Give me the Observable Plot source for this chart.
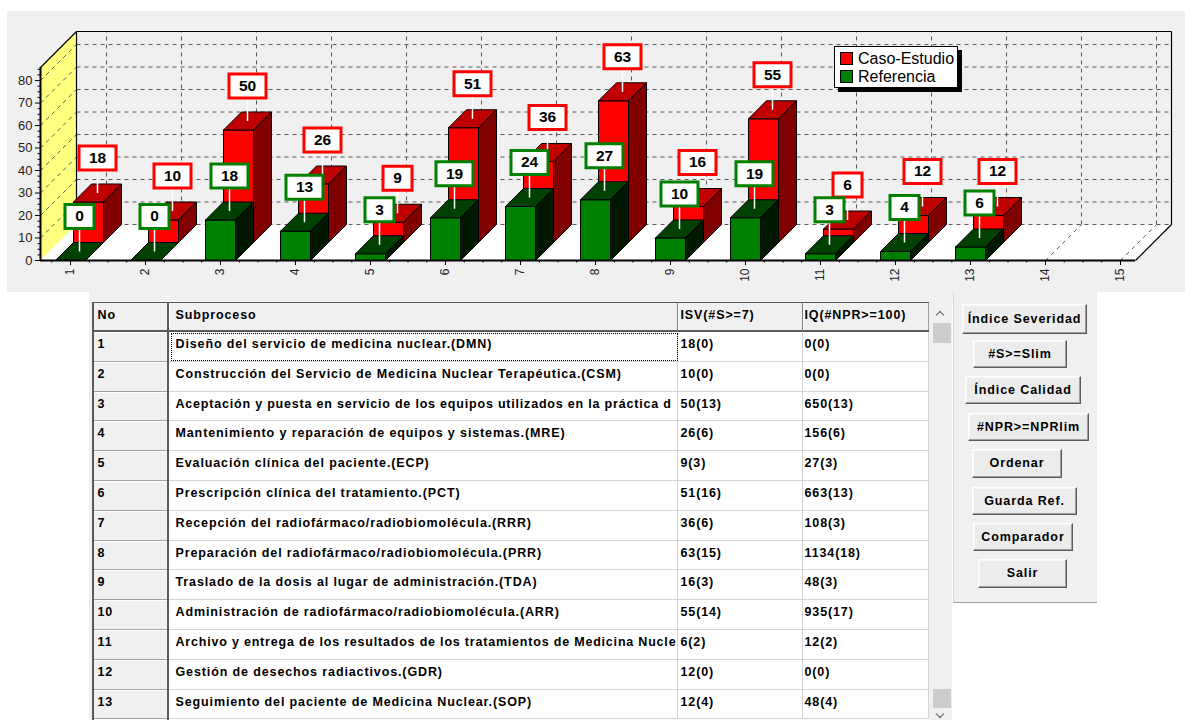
<!DOCTYPE html>
<html>
<head>
<meta charset="utf-8">
<script src="https://cdn.jsdelivr.net/npm/d3@7"></script>
<script src="https://cdn.jsdelivr.net/npm/@observablehq/plot@0.6"></script>
<style>
  html, body { margin: 0; padding: 0; background: #fff; }
  body { width: 1185px; height: 720px; overflow: hidden; position: relative; font-family: "Liberation Sans", Arial, sans-serif; }
  .abs { position: absolute; box-sizing: border-box; }
  #panel { left: 7px; top: 11px; width: 1178px; height: 281px; background: #f0f0f0; }
  #chart { left: 0; top: 0; }
  #legend { left: 834px; top: 46px; width: 124px; height: 42px; background: #fff; border: 1px solid #000; box-shadow: 4px 4px 0 #000; }
  .sw { position: absolute; left: 5px; width: 13px; height: 13px; border: 1px solid #000; box-sizing: border-box; }
  .lt { position: absolute; left: 23px; font-size: 16px; line-height: 18px; color: #000; white-space: nowrap; }
  .cell { position: absolute; box-sizing: border-box; overflow: hidden; white-space: nowrap; font-size: 12.5px; letter-spacing: 0.88px; font-weight: bold; line-height: 14px; color: #000; }
  .tight { letter-spacing: 0.8px; }
  .fixed { background: #f0f0f0; border-right: 1px solid #a0a0a0; border-bottom: 1px solid #a0a0a0; box-shadow: inset 1px 1px 0 #fff; }
  .data { background: #fff; border-right: 1px solid #d4d4d4; border-bottom: 1px solid #d4d4d4; }
  .btn { position: absolute; box-sizing: border-box; background: #ececec; border: 1px solid; border-color: #fff #5a5a5a #5a5a5a #fff; box-shadow: inset -1px -1px 0 #a0a0a0, inset 1px 1px 0 #f8f8f8; font-size: 12.5px; letter-spacing: 0.9px; font-weight: bold; text-align: center; color: #000; white-space: nowrap; }
</style>
</head>
<body>
<div id="panel" class="abs"></div>
<div id="chart" class="abs"></div>
<div id="legend" class="abs">
  <div class="sw" style="top:5px;background:#ff0000"></div><div class="lt" style="top:3px">Caso-Estudio</div>
  <div class="sw" style="top:23px;background:#008000"></div><div class="lt" style="top:21px">Referencia</div>
</div>
<div id="table"></div>
<script>
// ---------------- data ----------------
const categories = [1, 2, 3, 4, 5, 6, 7, 8, 9, 10, 11, 12, 13, 14, 15];
const casoEstudio = [18, 10, 50, 26, 9, 51, 36, 63, 16, 55, 6, 12, 12];
const referencia = [0, 0, 18, 13, 3, 19, 24, 27, 10, 19, 3, 4, 6];
const yTicks = [0, 10, 20, 30, 40, 50, 60, 70, 80];
const seriesNames = ["Referencia", "Caso-Estudio"];

const tableHeader = ["No", "Subproceso", "ISV(#S>=7)", "IQ(#NPR>=100)"];
const tableNo = ["1", "2", "3", "4", "5", "6", "7", "8", "9", "10", "11", "12", "13"];
const subprocesos = [
  "Diseño del servicio de medicina nuclear.(DMN)",
  "Construcción del Servicio de Medicina Nuclear Terapéutica.(CSM)",
  "Aceptación y puesta en servicio de los equipos utilizados en la práctica d",
  "Mantenimiento y reparación de equipos y sistemas.(MRE)",
  "Evaluación clínica del paciente.(ECP)",
  "Prescripción clínica del tratamiento.(PCT)",
  "Recepción del radiofármaco/radiobiomolécula.(RRR)",
  "Preparación del radiofármaco/radiobiomolécula.(PRR)",
  "Traslado de la dosis al lugar de administración.(TDA)",
  "Administración de radiofármaco/radiobiomolécula.(ARR)",
  "Archivo y entrega de los resultados de los tratamientos de Medicina Nucle",
  "Gestión de desechos radiactivos.(GDR)",
  "Seguimiento del paciente de Medicina Nuclear.(SOP)"
];
const isv = ["18(0)", "10(0)", "50(13)", "26(6)", "9(3)", "51(16)", "36(6)", "63(15)", "16(3)", "55(14)", "6(2)", "12(0)", "12(4)"];
const iq = ["0(0)", "0(0)", "650(13)", "156(6)", "27(3)", "663(13)", "108(3)", "1134(18)", "48(3)", "935(17)", "12(2)", "0(0)", "48(4)"];
const buttons = ["Índice Severidad", "#S>=Slim", "Índice Calidad", "#NPR>=NPRlim", "Ordenar", "Guarda Ref.", "Comparador", "Salir"];

// ---------------- geometry / style ----------------
const W = 1185, H = 292, mL = 40, mR = 50, mT = 67, mB = 32;
const xDomain = [0.6, 15.2], yDomain = [0, 85.8];
const xPerPx = (xDomain[1] - xDomain[0]) / (W - mL - mR);
const yPerPx = (yDomain[1] - yDomain[0]) / (H - mT - mB);
const DEPTH = 18, HALF = 15;
const DX = DEPTH * xPerPx, DY = DEPTH * yPerPx, HW = HALF * xPerPx;
const x0 = xDomain[0], x1 = xDomain[1], yMax = yDomain[1];
const colors = [
  {front: "#008000", top: "#004000", side: "#001800", label: "#008000"},
  {front: "#ff0000", top: "#c00000", side: "#800000", label: "#ff0000"}
];
const font = '"Liberation Sans", Arial, sans-serif';

function poly(id, pts) { return pts.concat([pts[0]]).map(([x, y]) => ({id, x, y})); }

// bars per series
const barData = [referencia, casoEstudio].map((vals, s) =>
  vals.map((v, k) => ({i: categories[k], v, s, name: seriesNames[s]})));

function facesFor(s) {
  const front = [], top = [], side = [];
  for (const d of barData[s]) {
    const ox = s * DX, oy = s * DY;
    const xl = d.i - HW + ox, xr = d.i + HW + ox, ya = oy, yb = d.v + oy;
    front.push(...poly(`f${s}-${d.i}`, [[xl, ya], [xr, ya], [xr, yb], [xl, yb]]));
    top.push(...poly(`t${s}-${d.i}`, [[xl, yb], [xr, yb], [xr + DX, yb + DY], [xl + DX, yb + DY]]));
    side.push(...poly(`s${s}-${d.i}`, [[xr, ya], [xr + DX, ya + DY], [xr + DX, yb + DY], [xr, yb]]));
  }
  return {front, top, side};
}

const leftWall = poly("lw", [[x0, 0], [x0 + 2 * DX, 2 * DY], [x0 + 2 * DX, yMax + 2 * DY], [x0, yMax]]);
const floor = poly("fl", [[x0, 0], [x1, 0], [x1 + 2 * DX, 2 * DY], [x0 + 2 * DX, 2 * DY]]);
const dash = {stroke: "#5a5a5a", strokeWidth: 1, strokeDasharray: "4,4"};

const xMinor = [];
for (const c of categories) for (const f of [-0.25, 0.25, 0.5]) { const t = c + f; if (t > x0 && t < x1) xMinor.push(t); }
const yMinor = [];
for (const t of yTicks) for (const f of [2.5, 5, 7.5]) if (t + f < yMax) yMinor.push(t + f);

const boxSym = (w, h) => ({draw(ctx) { ctx.moveTo(-w / 2, -h / 2); ctx.lineTo(w / 2, -h / 2); ctx.lineTo(w / 2, h / 2); ctx.lineTo(-w / 2, h / 2); ctx.closePath(); }});
const connSym = {draw(ctx) { ctx.moveTo(0, 0); ctx.lineTo(0, -24); }};

const marks = [
  Plot.line(leftWall, {x: "x", y: "y", z: "id", fill: "#ffff80", stroke: "none"}),
  Plot.line(floor, {x: "x", y: "y", z: "id", fill: "#ffffff", stroke: "none"}),
  // back wall grid
  Plot.link(yTicks, {x1: x0 + 2 * DX, x2: x1 + 2 * DX, y1: v => v + 2 * DY, y2: v => v + 2 * DY, ...dash}),
  Plot.link(categories, {x1: c => c + 2 * DX, x2: c => c + 2 * DX, y1: 2 * DY, y2: yMax + 2 * DY, ...dash}),
  // left wall grid
  Plot.link(yTicks.slice(1), {x1: x0, x2: x0 + 2 * DX, y1: v => v, y2: v => v + 2 * DY, ...dash}),
  // floor grid
  Plot.link(categories, {x1: c => c, x2: c => c + 2 * DX, y1: 0, y2: 2 * DY, ...dash}),
  // frame
  Plot.link([0], {x1: x0, y1: yMax, x2: x0 + 2 * DX, y2: yMax + 2 * DY, stroke: "#000", strokeWidth: 1.2}),
  Plot.link([0], {x1: x0 + 2 * DX, y1: yMax + 2 * DY, x2: x1 + 2 * DX, y2: yMax + 2 * DY, stroke: "#000", strokeWidth: 1.2}),
  Plot.link([0], {x1: x0 + 2 * DX, y1: 2 * DY, x2: x0 + 2 * DX, y2: yMax + 2 * DY, stroke: "#000", strokeWidth: 1.2}),
  Plot.link([0], {x1: x1 + 2 * DX, y1: 2 * DY, x2: x1 + 2 * DX, y2: yMax + 2 * DY, stroke: "#000", strokeWidth: 1.2}),
  Plot.link([0], {x1: x1, y1: 0, x2: x1 + 2 * DX, y2: 2 * DY, stroke: "#000", strokeWidth: 1.2})
];

for (const s of [1, 0]) {
  const f = facesFor(s);
  const c = colors[s];
  const st = {x: "x", y: "y", z: "id", stroke: "#000", strokeWidth: 1, strokeLinejoin: "miter"};
  marks.push(
    Plot.line(f.front, {...st, fill: c.front}),
    Plot.line(f.top, {...st, fill: c.top}),
    Plot.line(f.side, {...st, fill: c.side})
  );
}

marks.push(
  Plot.ruleX([x0], {y1: 0, y2: yMax, stroke: "#000", strokeWidth: 2}),
  Plot.ruleY([0], {x1: x0, x2: x1, stroke: "#000", strokeWidth: 2}),
  Plot.axisY({ticks: yTicks, anchor: "left", tickSize: 5, tickPadding: 3, fontSize: 13, fill: "#222", stroke: "#000", label: null}),
  Plot.axisY({ticks: yMinor, anchor: "left", tickSize: 2.5, tickFormat: () => "", stroke: "#000", label: null}),
  Plot.axisX({ticks: categories, anchor: "bottom", tickSize: 5, tickPadding: 3, tickRotate: -90, fontSize: 12, fill: "#222", stroke: "#000", label: null}),
  Plot.axisX({ticks: xMinor, anchor: "bottom", tickSize: 2.5, tickFormat: () => "", stroke: "#000", label: null})
);

for (const s of [1, 0]) {
  const c = colors[s];
  const ddx = 9 + DEPTH * s, ddy = -(9 + DEPTH * s);
  const data = barData[s];
  marks.push(
    Plot.dot(data, {x: "i", y: "v", dx: ddx, dy: ddy, symbol: connSym, fill: "none", stroke: "#fff", strokeWidth: 1.5}),
    Plot.dot(data.filter(d => String(d.v).length > 1), {x: "i", y: "v", dx: ddx, dy: ddy - 35, symbol: boxSym(37, 24), fill: "#fff", stroke: c.label, strokeWidth: 3, strokeLinejoin: "miter"}),
    Plot.dot(data.filter(d => String(d.v).length === 1), {x: "i", y: "v", dx: ddx, dy: ddy - 35, symbol: boxSym(29, 24), fill: "#fff", stroke: c.label, strokeWidth: 3, strokeLinejoin: "miter"}),
    Plot.text(data, {x: "i", y: "v", dx: ddx, dy: ddy - 35, text: d => String(d.v), fontSize: 15.5, fontWeight: "bold", fontFamily: font, fill: "#000"})
  );
}

const chart = Plot.plot({
  width: W, height: H,
  marginLeft: mL, marginRight: mR, marginTop: mT, marginBottom: mB,
  x: {type: "linear", domain: xDomain},
  y: {type: "linear", domain: yDomain},
  style: {background: "transparent", overflow: "visible", fontFamily: font, fontSize: "12px", color: "#000"},
  marks
});
document.getElementById("chart").appendChild(chart);

// ---------------- table ----------------
const T = document.getElementById("table");
function add(cls, style, text) {
  const el = document.createElement("div");
  el.className = cls;
  el.style.cssText = style;
  if (text != null) el.textContent = text;
  T.appendChild(el);
  return el;
}
// grey surround
add("abs", "left:89px;top:292px;width:864px;height:11px;background:#f0f0f0");
add("abs", "left:89px;top:292px;width:3px;height:428px;background:#f0f0f0");
add("abs", "left:953px;top:292px;width:144px;height:311px;background:#f0f0f0;border-bottom:1px solid #a0a0a0;border-left:1px solid #d8d8d8");

const cols = [{x: 92, w: 77, tx: 5.5}, {x: 169, w: 509, tx: 6.5}, {x: 678, w: 125, tx: 2.5}, {x: 803, w: 126, tx: 1.5}];
const headerTop = 302, headerH = 30, rowH = 29.8, rowTop = 332;
const rows = [tableHeader].concat(tableNo.map((n, k) => [n, subprocesos[k], isv[k], iq[k]]));
rows.forEach((r, k) => {
  const top = k === 0 ? headerTop : rowTop + (k - 1) * rowH;
  const h = k === 0 ? headerH : rowH;
  r.forEach((t, j) => {
    const c = cols[j];
    const fixed = k === 0 || j === 0;
    const tight = j === 1 && t.length > 70 ? " tight" : "";
    add("cell " + (fixed ? "fixed" : "data") + tight,
      `left:${c.x}px;top:${top}px;width:${c.w}px;height:${h}px;padding-left:${c.tx}px;padding-top:${k === 0 ? 6 : 5}px;`, t);
  });
});
// dark separators
add("abs", "left:92px;top:302px;width:837px;height:1px;background:#5a5a5a");
add("abs", "left:92px;top:302px;width:2px;height:418px;background:#5a5a5a");
add("abs", "left:92px;top:330px;width:837px;height:2px;background:#5a5a5a");
add("abs", "left:167px;top:302px;width:2px;height:418px;background:#5a5a5a");
add("abs", "left:677px;top:302px;width:1px;height:30px;background:#7a7a7a");
add("abs", "left:802px;top:302px;width:1px;height:30px;background:#7a7a7a");
// focus rectangle
add("abs", "left:171px;top:333px;width:507px;height:28px;border:1px dotted #000");
// scrollbar
add("abs", "left:929px;top:302px;width:23px;height:418px;background:#f0f0f0");
add("abs", "left:933px;top:323px;width:18px;height:20px;background:#cdcdcd");
add("abs", "left:933px;top:689px;width:18px;height:19px;background:#cdcdcd");
add("abs", "left:937px;top:312px;width:6px;height:6px;border-left:1.5px solid #606060;border-top:1.5px solid #606060;transform:rotate(45deg)");
add("abs", "left:937px;top:711px;width:6px;height:6px;border-right:1.5px solid #606060;border-bottom:1.5px solid #606060;transform:rotate(45deg)");

// buttons
const btnBoxes = [[962, 304, 125, 30], [973, 340, 94, 28], [965, 376, 116, 28], [968, 413, 121, 28], [972, 449, 90, 29], [972, 487, 105, 28], [973, 523, 100, 28], [978, 559, 89, 29]];
buttons.forEach((b, k) => {
  const [x, y, w, h] = btnBoxes[k];
  add("btn", `left:${x}px;top:${y}px;width:${w}px;height:${h}px;line-height:${h - 2}px;`, b);
});
</script>
</body>
</html>
